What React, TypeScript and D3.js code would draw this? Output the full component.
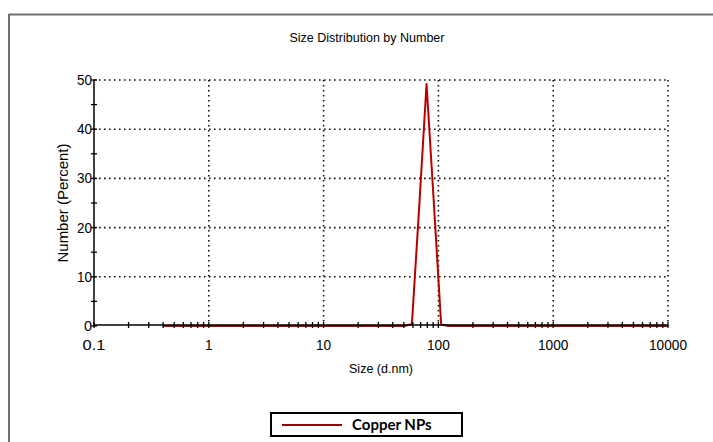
import React from "react";
import * as d3 from "d3";

const sizes = [0.4, 1, 10, 43.82, 50.75, 58.77, 68.06, 78.82, 91.28, 105.7, 122.4, 141.8, 1000, 10000];
const numbers = [0, 0, 0, 0, 0, 0.4, 24.2, 49.2, 25.0, 0.3, 0, 0, 0, 0];
const xTicks = [0.1, 1, 10, 100, 1000, 10000];
const xTickLabels = ["0.1", "1", "10", "100", "1000", "10000"];
const yTicks = [0, 10, 20, 30, 40, 50];
const yMinorTicks = [5, 15, 25, 35, 45];
const seriesName = "Copper NPs";
const title = "Size Distribution by Number";
const xTitle = "Size (d.nm)";
const yTitle = "Number (Percent)";

export default function App() {
  const W = 713, H = 442;
  const x = d3.scaleLog().domain([0.1, 10000]).range([94, 668]);
  const y = d3.scaleLinear().domain([0, 50]).range([326, 80]);
  const minor: number[] = [];
  for (let dec = 0.1; dec < 10000; dec *= 10) {
    for (let k = 2; k <= 9; k++) minor.push(dec * k);
  }
  const line = d3
    .line<number>()
    .x((_, i) => x(sizes[i]))
    .y((d) => y(d));
  const grid = "#111";
  const font = "'Liberation Sans', Arial, sans-serif";
  return (
    <div style={{ position: "absolute", left: 0, top: 0 }}>
      <svg width={W} height={H} style={{ display: "block", background: "#fff" }}>
        <rect x={0} y={0} width={W} height={H} fill="#fff" />
        {/* frame */}
        <line x1={9} y1={14.5} x2={W} y2={14.5} stroke="#6f6f6f" strokeWidth={2} />
        <line x1={9} y1={14} x2={9} y2={H} stroke="#6f6f6f" strokeWidth={2} />
        <text x={367} y={42} textAnchor="middle" fontFamily={font} fontSize={13.5} fill="#000" textLength={155} lengthAdjust="spacingAndGlyphs">
          {title}
        </text>
        {/* grid */}
        {yTicks.filter((t) => t > 0).map((t) => (
          <line key={"gy" + t} x1={x(0.1)} x2={x(10000)} y1={y(t)} y2={y(t)} stroke={grid} strokeWidth={1.6} strokeDasharray="1.6,3.4" />
        ))}
        {xTicks.filter((t) => t > 0.1).map((t) => (
          <line key={"gx" + t} x1={x(t)} x2={x(t)} y1={y(50)} y2={y(0)} stroke={grid} strokeWidth={1.6} strokeDasharray="1.6,3.4" />
        ))}
        {/* axes */}
        <line x1={x(0.1)} x2={x(0.1)} y1={y(50)} y2={y(0)} stroke="#000" strokeWidth={1.5} />
        {yTicks.concat(yMinorTicks).map((t) => (
          <line key={"yt" + t} x1={x(0.1) - 3} x2={x(0.1) + 3} y1={y(t)} y2={y(t)} stroke="#000" strokeWidth={1.3} />
        ))}
        {/* data */}
        <path d={line(numbers) || ""} fill="none" stroke="#b80000" strokeWidth={2} strokeLinejoin="round" />
        <line x1={x(0.1)} x2={x(10000)} y1={y(0) - 1} y2={y(0) - 1} stroke="#000" strokeWidth={1.3} />
        {minor.concat(xTicks).map((t, i) => (
          <line key={"xt" + i} x1={x(t)} x2={x(t)} y1={y(0) - 4} y2={y(0) + 2} stroke="#000" strokeWidth={1.3} />
        ))}
        {yTicks.map((t) => (
          <text key={"yl" + t} x={x(0.1) - 2} y={y(t) + 5} textAnchor="end" fontFamily={font} fontSize={14.5} fill="#000" textLength={t === 0 ? 8 : 15} lengthAdjust="spacingAndGlyphs">
            {t}
          </text>
        ))}
        {xTicks.map((t, i) => (
          <text key={"xl" + t} x={x(t)} y={350} textAnchor="middle" fontFamily={font} fontSize={14.5} fill="#000" textLength={xTickLabels[i].length * 7.6} lengthAdjust="spacingAndGlyphs">
            {xTickLabels[i]}
          </text>
        ))}
        <text x={381} y={373} textAnchor="middle" fontFamily={font} fontSize={13.5} fill="#000" textLength={64} lengthAdjust="spacingAndGlyphs">
          {xTitle}
        </text>
        <text
          transform={`translate(68,203) rotate(-90)`}
          textAnchor="middle"
          fontFamily={font}
          fontSize={14.5}
          fill="#000"
          textLength={119}
          lengthAdjust="spacingAndGlyphs"
        >
          {yTitle}
        </text>
        {/* legend */}
        <rect x={271} y={413} width={191} height={23} fill="#fff" stroke="#000" strokeWidth={2} />
        <line x1={282} x2={342} y1={425} y2={425} stroke="#a00000" strokeWidth={2} />
        <text x={352} y={430} fontFamily="Lato, 'Open Sans', sans-serif" fontWeight="bold" fontSize={15} fill="#000">
          {seriesName}
        </text>
      </svg>
    </div>
  );
}
